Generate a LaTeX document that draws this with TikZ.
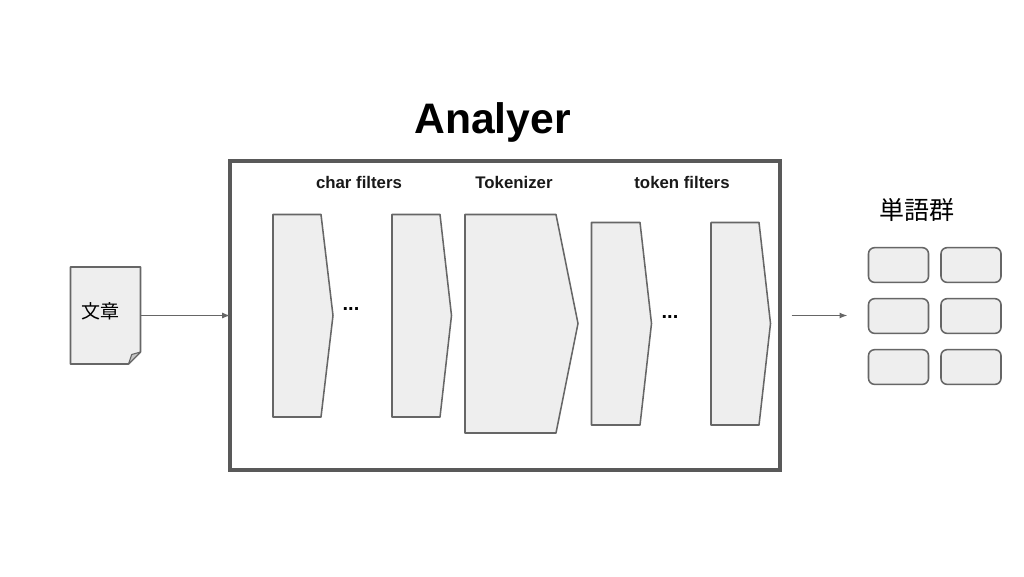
\documentclass[tikz,border=0pt]{standalone}
\usepackage{fontspec}
\setmainfont{Liberation Sans}
\newfontfamily\cjk{Noto Sans CJK JP}
\usetikzlibrary{arrows.meta}
\definecolor{fillg}{HTML}{EEEEEE}
\definecolor{lineg}{HTML}{666666}
\definecolor{frameg}{HTML}{595959}
\definecolor{foldg}{HTML}{C4C4C4}
\tikzset{
  shapeline/.style={draw=lineg,fill=fillg,line width=1.15pt,line join=round},
  word/.style={shapeline,rounded corners=4.5pt,minimum width=45pt,minimum height=26pt,inner sep=0pt},
  frame/.style={draw=frameg,line width=2.6pt,minimum width=412.5pt,minimum height=231.75pt,inner sep=0pt,outer sep=0pt},
  conn/.style={draw=lineg,line width=1.1pt,-{Latex[length=6pt,width=4.5pt]}},
  head/.style={font=\bfseries\fontsize{12.6pt}{14pt}\selectfont,text=black!90},
  dots/.style={font=\bfseries\fontsize{15pt}{15pt}\selectfont,inner sep=0pt}
}
\begin{document}
\begin{tikzpicture}[x=0.75pt,y=-0.75pt]
\useasboundingbox (0,0) rectangle (1024,576);
\fill[white] (0,0) rectangle (1024,576);
% title
\node[font=\bfseries\fontsize{32pt}{36pt}\selectfont] (title) at (492.5,122) {Analyer};
% frame
\node[frame] (box) at (505.2,315.5) {};
% document
\draw[shapeline] (70.5,267) -- (140.5,267) -- (140.5,352) -- (128.5,364) -- (70.5,364) -- cycle;
\draw[shapeline,fill=foldg,line width=0.8pt] (140.5,352) -- (131.7,354.5) -- (128.5,364) -- cycle;
\node[font=\cjk\fontsize{14.25pt}{16pt}\selectfont,inner sep=0pt] (doc) at (100,311) {文章};
\coordinate (docout) at (140.5,315.5);
\draw[conn] (docout) -- (box.west);
% headings
\node[head] (hchar) at (359,182) {char filters};
\node[head] (htok) at (514,182) {Tokenizer};
\node[head] (htf) at (682,182) {token filters};
% filters
\draw[shapeline] (273,214.5) -- (321,214.5) -- (333,315.5) -- (321,417) -- (273,417) -- cycle;
\draw[shapeline] (392,214.5) -- (440,214.5) -- (451.5,315.5) -- (440,417) -- (392,417) -- cycle;
\draw[shapeline] (465,214.5) -- (556,214.5) -- (578,323.5) -- (556,433) -- (465,433) -- cycle;
\draw[shapeline] (591.5,222.5) -- (640,222.5) -- (651.5,323.5) -- (640,425) -- (591.5,425) -- cycle;
\draw[shapeline] (711,222.5) -- (759,222.5) -- (770.5,323.5) -- (759,425) -- (711,425) -- cycle;
\node[dots] (d1) at (351,309) {...};
\node[dots] (d2) at (670,317) {...};
% output
\coordinate (outs) at (791.5,315.5);
\coordinate (oute) at (847.5,315.5);
\draw[conn] (outs) -- (oute);
\node[font=\cjk\fontsize{18.75pt}{20pt}\selectfont,inner sep=0pt] (words) at (917,210) {単語群};
\node[word] (w1) at (898.5,265) {};
\node[word] (w2) at (971,265) {};
\node[word] (w3) at (898.5,316) {};
\node[word] (w4) at (971,316) {};
\node[word] (w5) at (898.5,367) {};
\node[word] (w6) at (971,367) {};
\end{tikzpicture}
\end{document}
